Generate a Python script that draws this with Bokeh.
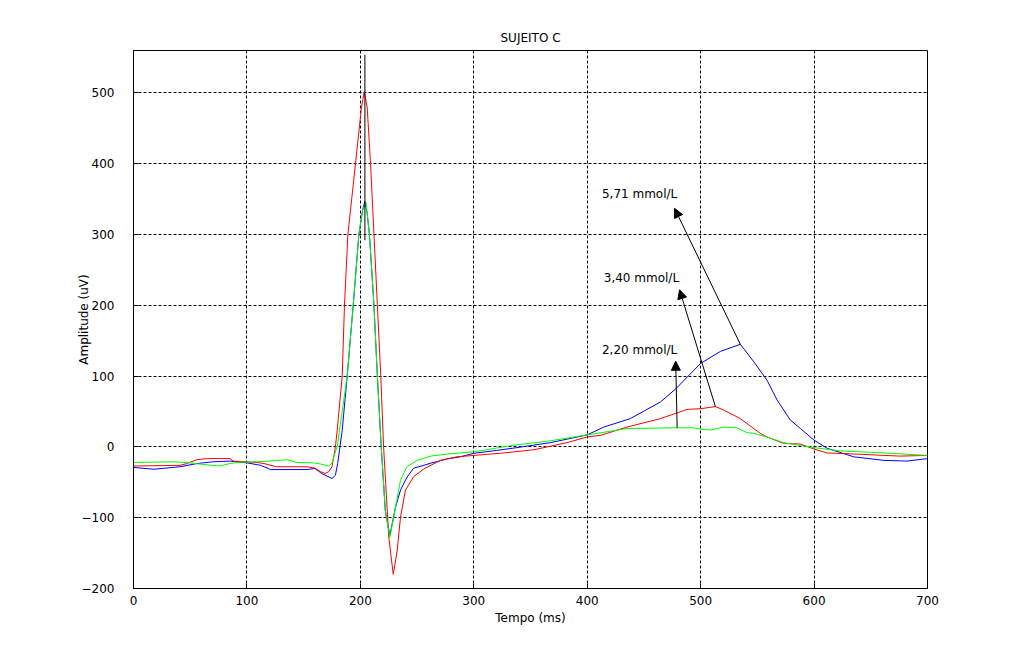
from bokeh.plotting import figure
from bokeh.models import Range1d, Arrow, NormalHead, Label, FixedTicker
from bokeh.embed import file_html
from bokeh.resources import INLINE

# ---- data ----
blue_t = [0, 18, 41, 56, 70, 85, 100, 112, 121, 153, 160, 166, 175, 178, 180, 182, 184, 188.4, 193.7, 198.7, 202, 204,
          206, 208, 212, 215, 218.4, 222, 226, 231, 235.4, 241, 247, 256, 262, 276.5, 288, 300, 320, 338, 367.5, 400,
          414.6, 438, 464.6, 478, 500, 517.5, 535, 547, 558.6, 567.5, 579, 588, 600, 611.6, 635, 661.5, 682, 700]
blue_v = [-29, -31.5, -28, -23.5, -21, -20, -22.5, -26, -32, -32, -30.5, -37.6, -44.6, -40, -23.5, 0, 23.5, 100, 200, 300, 335, 347,
          330, 300, 200, 100, 0, -90, -125, -85, -61, -43, -30, -26, -23, -17, -14, -9, -5, -1, 6, 17,
          28, 40, 63.5, 82, 118, 135, 145, 120, 94, 66, 38, 26, 9.5, -2, -14, -19, -20, -16.5]

green_t = [0, 35, 50, 59, 76, 85, 94, 109, 123, 135, 144, 159, 166, 172, 175, 177.5, 179.6, 181.6, 188.4, 193.7, 198.7, 202, 205,
           208, 212, 215, 218.4, 222, 226, 231, 235.4, 241, 250, 262, 276.5, 300, 335, 365, 400, 412, 435, 476, 493, 503, 509,
           520.5, 532, 541, 547, 558.6, 573, 588, 600, 623, 661.5, 700]
green_v = [-22, -21, -22.5, -24.4, -27, -23.5, -21.5, -21, -19.7, -18, -22, -22.5, -24.5, -27, -23, -9.4, 0, 23.5, 100, 200, 300, 335, 345,
           300, 200, 100, 0, -90, -128, -85, -47, -28, -19, -13, -10, -7, 2.4, 8, 17, 20, 26, 27, 27, 24.5, 24,
           28, 27, 20, 19, 14, 6, 2, -1, -5.6, -8.5, -12]

red_t = [0, 41, 47, 56, 65, 85, 88, 109, 115, 126, 153, 160, 165, 169, 172, 175, 178, 179.6, 184, 186, 189, 195.7, 201, 203.5,
         206, 209, 212, 215, 218, 220.5, 225, 229, 232.5, 235.4, 239.8, 247, 256, 270.6, 285, 300, 323.5, 353, 382, 400, 412,
         435, 464.6, 488, 500, 513, 520.4, 535, 552.7, 558.6, 573, 588, 600, 611.6, 635, 676, 700]
red_v = [-27, -26, -23.5, -18, -16.5, -16.5, -20, -22, -23.5, -28, -28, -30, -35, -37.6, -35, -28, 0, 23.5, 100, 200, 300, 400, 480, 502,
         480, 400, 300, 200, 100, 0, -127, -180, -146, -99, -61, -42, -31, -19, -14, -12, -9, -4, 6, 14, 16.5,
         28, 40, 53, 54, 57, 52, 40, 19, 14, 5, 4, -3, -8.5, -10, -13, -12]

black_t = [204, 204]
black_v = [292, 554]

labels = ["5,71 mmol/L", "3,40 mmol/L", "2,20 mmol/L"]
label_t = [413, 414.6, 413]
label_v = [356.6, 239, 136.5]
arrow_start_t = [535, 513, 479.3]
arrow_start_v = [145, 57, 27]
arrow_end_t = [477, 481.4, 478]
arrow_end_v = [337, 222, 121]

x_ticks = [0, 100, 200, 300, 400, 500, 600, 700]
y_ticks = [-200, -100, 0, 100, 200, 300, 400, 500]

FONT = "DejaVu Sans"
FS = "12px"

p = figure(width=1016, height=654, output_backend="svg", toolbar_location=None,
           x_range=Range1d(0, 700), y_range=Range1d(-200, 560),
           min_border_left=133, min_border_right=89, min_border_top=50, min_border_bottom=66,
           title="SUJEITO C")
p.title.align = "center"
p.title.text_font = FONT
p.title.text_font_size = FS
p.title.text_font_style = "normal"
p.title.text_color = "black"
p.title.standoff = 12

p.background_fill_color = "white"
p.border_fill_color = "white"
p.outline_line_color = "black"
p.outline_line_width = 1

for ax in (p.xaxis[0], p.yaxis[0]):
    ax.major_tick_in = 5
    ax.major_tick_out = 0
    ax.minor_tick_line_color = None
    ax.axis_line_color = "black"
    ax.major_label_text_font = FONT
    ax.major_label_text_font_size = FS
    ax.major_label_text_color = "black"
    ax.axis_label_text_font = FONT
    ax.axis_label_text_font_size = FS
    ax.axis_label_text_font_style = "normal"
    ax.axis_label_text_color = "black"

p.xaxis.ticker = FixedTicker(ticks=x_ticks)
p.yaxis.ticker = FixedTicker(ticks=y_ticks)
p.xaxis.axis_label = "Tempo (ms)"
p.yaxis.axis_label = "Amplitude (uV)"
p.xaxis.major_label_standoff = 7
p.yaxis.major_label_standoff = 19
p.xaxis.axis_label_standoff = 3
p.yaxis.axis_label_standoff = -12

for g in (p.xgrid[0], p.ygrid[0]):
    g.grid_line_color = "black"
    g.grid_line_dash = "3 2"
    g.grid_line_width = 1
    g.grid_line_alpha = 1.0

p.line(blue_t, blue_v, line_color="#0000ff", line_width=1)
p.line(red_t, red_v, line_color="#ff0000", line_width=1)
p.line(green_t, green_v, line_color="#00ff00", line_width=1)
p.line(black_t, black_v, line_color="black", line_width=1)

for i in range(3):
    p.add_layout(Arrow(end=NormalHead(size=9, fill_color="black", line_color="black"),
                       x_start=arrow_start_t[i], y_start=arrow_start_v[i],
                       x_end=arrow_end_t[i], y_end=arrow_end_v[i],
                       line_color="black", line_width=1))
    p.add_layout(Label(x=label_t[i], y=label_v[i], text=labels[i],
                       text_font=FONT, text_font_size=FS, text_color="black",
                       text_baseline="middle", text_align="left"))

open("out.html", "w").write(file_html(p, INLINE))
